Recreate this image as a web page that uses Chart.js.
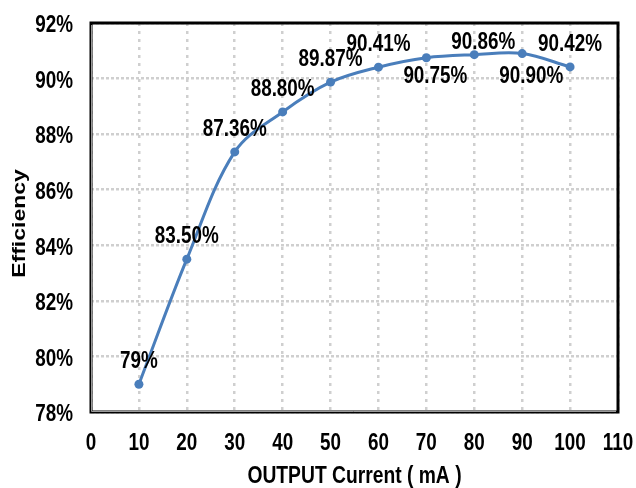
<!DOCTYPE html>
<html>
<head>
<meta charset="utf-8">
<script src="https://cdn.jsdelivr.net/npm/chart.js@4"></script>
<style>
  html, body { margin: 0; padding: 0; background: #fff; }
</style>
</head>
<body>
<canvas id="chart" width="636" height="488"></canvas>
<script>
// efficiency vs output current
const currents = [10, 20, 30, 40, 50, 60, 70, 80, 90, 100];
const efficiency = [79, 83.5, 87.36, 88.8, 89.87, 90.41, 90.75, 90.86, 90.9, 90.42];
const pointLabels = ['79%', '83.50%', '87.36%', '88.80%', '89.87%', '90.41%', '90.75%', '90.86%', '90.90%', '90.42%'];
const xTicks = [0, 10, 20, 30, 40, 50, 60, 70, 80, 90, 100, 110];
const yTicks = [78, 80, 82, 84, 86, 88, 90, 92];
const xTitle = 'OUTPUT Current ( mA )';
const yTitle = 'Efficiency';

// where each value label sits relative to its point (px)
const labelOffsets = [[0, -24], [0, -24], [0, -24], [0, -24], [0, -24], [0, -24], [9, 17], [9, -14], [9, 21], [0, -24]];

const fontFamily = "'Liberation Sans', Arial, sans-serif";
const squeeze = 0.82; // the original text is a narrow bold face
const lineColor = '#4a7ebb';
const gridColor = '#cfcfcf';

// draw text centred on its cap height, squeezed horizontally
function drawText(ctx, text, x, y, size, align, rotate) {
    ctx.save();
    ctx.font = 'bold ' + size + 'px ' + fontFamily;
    ctx.fillStyle = '#000';
    ctx.textAlign = align;
    ctx.textBaseline = 'alphabetic';
    ctx.translate(x, y);
    ctx.scale(squeeze, 1);
    if (rotate) ctx.rotate(-Math.PI / 2);
    ctx.fillText(text, 0, size * 0.358);
    ctx.restore();
}

const framePlugin = {
    id: 'frame',
    beforeDatasetsDraw(chart) {
        const { ctx, chartArea: a } = chart;
        ctx.save();
        ctx.strokeStyle = '#000';
        ctx.lineWidth = 3;
        ctx.strokeRect(a.left, a.top, a.right - a.left, a.bottom - a.top);
        // light inner line on left and bottom (shadow look)
        ctx.strokeStyle = '#9a9a9a';
        ctx.lineWidth = 1;
        ctx.beginPath();
        ctx.moveTo(a.left + 0.5, a.top + 2);
        ctx.lineTo(a.left + 0.5, a.bottom - 0.5);
        ctx.lineTo(a.right - 2, a.bottom - 0.5);
        ctx.stroke();
        ctx.restore();
    }
};

const textPlugin = {
    id: 'texts',
    afterDraw(chart) {
        const ctx = chart.ctx;
        const xs = chart.scales.x, ys = chart.scales.y;
        const a = chart.chartArea;
        yTicks.forEach(v => drawText(ctx, v + '%', 73, ys.getPixelForValue(v) + 1, 23, 'right'));
        xTicks.forEach(v => drawText(ctx, String(v), xs.getPixelForValue(v), a.bottom + 30, 23, 'center'));
        drawText(ctx, xTitle, (a.left + a.right) / 2, 475, 23.5, 'center');
        drawText(ctx, yTitle, 18, (a.top + a.bottom) / 2 + 6, 23, 'center', true);

        const meta = chart.getDatasetMeta(0);
        meta.data.forEach((pt, i) => {
            const [dx, dy] = labelOffsets[i];
            drawText(ctx, pointLabels[i], pt.x + dx, pt.y + dy, 23, 'center');
        });
    }
};

new Chart(document.getElementById('chart'), {
    type: 'line',
    data: {
        datasets: [{
            data: currents.map((c, i) => ({ x: c, y: efficiency[i] })),
            borderColor: lineColor,
            backgroundColor: lineColor,
            borderWidth: 3,
            pointRadius: 4.5,
            pointBackgroundColor: lineColor,
            pointBorderWidth: 0,
            tension: 0.35,
            fill: false
        }]
    },
    options: {
        responsive: false,
        animation: false,
        layout: { padding: { top: 23, right: 18, left: 0, bottom: 0 } },
        plugins: {
            legend: { display: false },
            tooltip: { enabled: false }
        },
        scales: {
            x: {
                type: 'linear',
                min: xTicks[0],
                max: xTicks[xTicks.length - 1],
                afterFit: (scale) => { scale.height = 76; },
                ticks: { stepSize: 10, display: false },
                grid: { color: gridColor, lineWidth: 2.5, drawTicks: false },
                border: { display: false, dash: [3, 5] }
            },
            y: {
                min: yTicks[0],
                max: yTicks[yTicks.length - 1],
                afterFit: (scale) => { scale.width = 91; },
                ticks: { stepSize: 2, display: false },
                grid: { color: gridColor, lineWidth: 2.5, drawTicks: false },
                border: { display: false, dash: [3, 2] }
            }
        }
    },
    plugins: [framePlugin, textPlugin]
});
</script>
</body>
</html>
